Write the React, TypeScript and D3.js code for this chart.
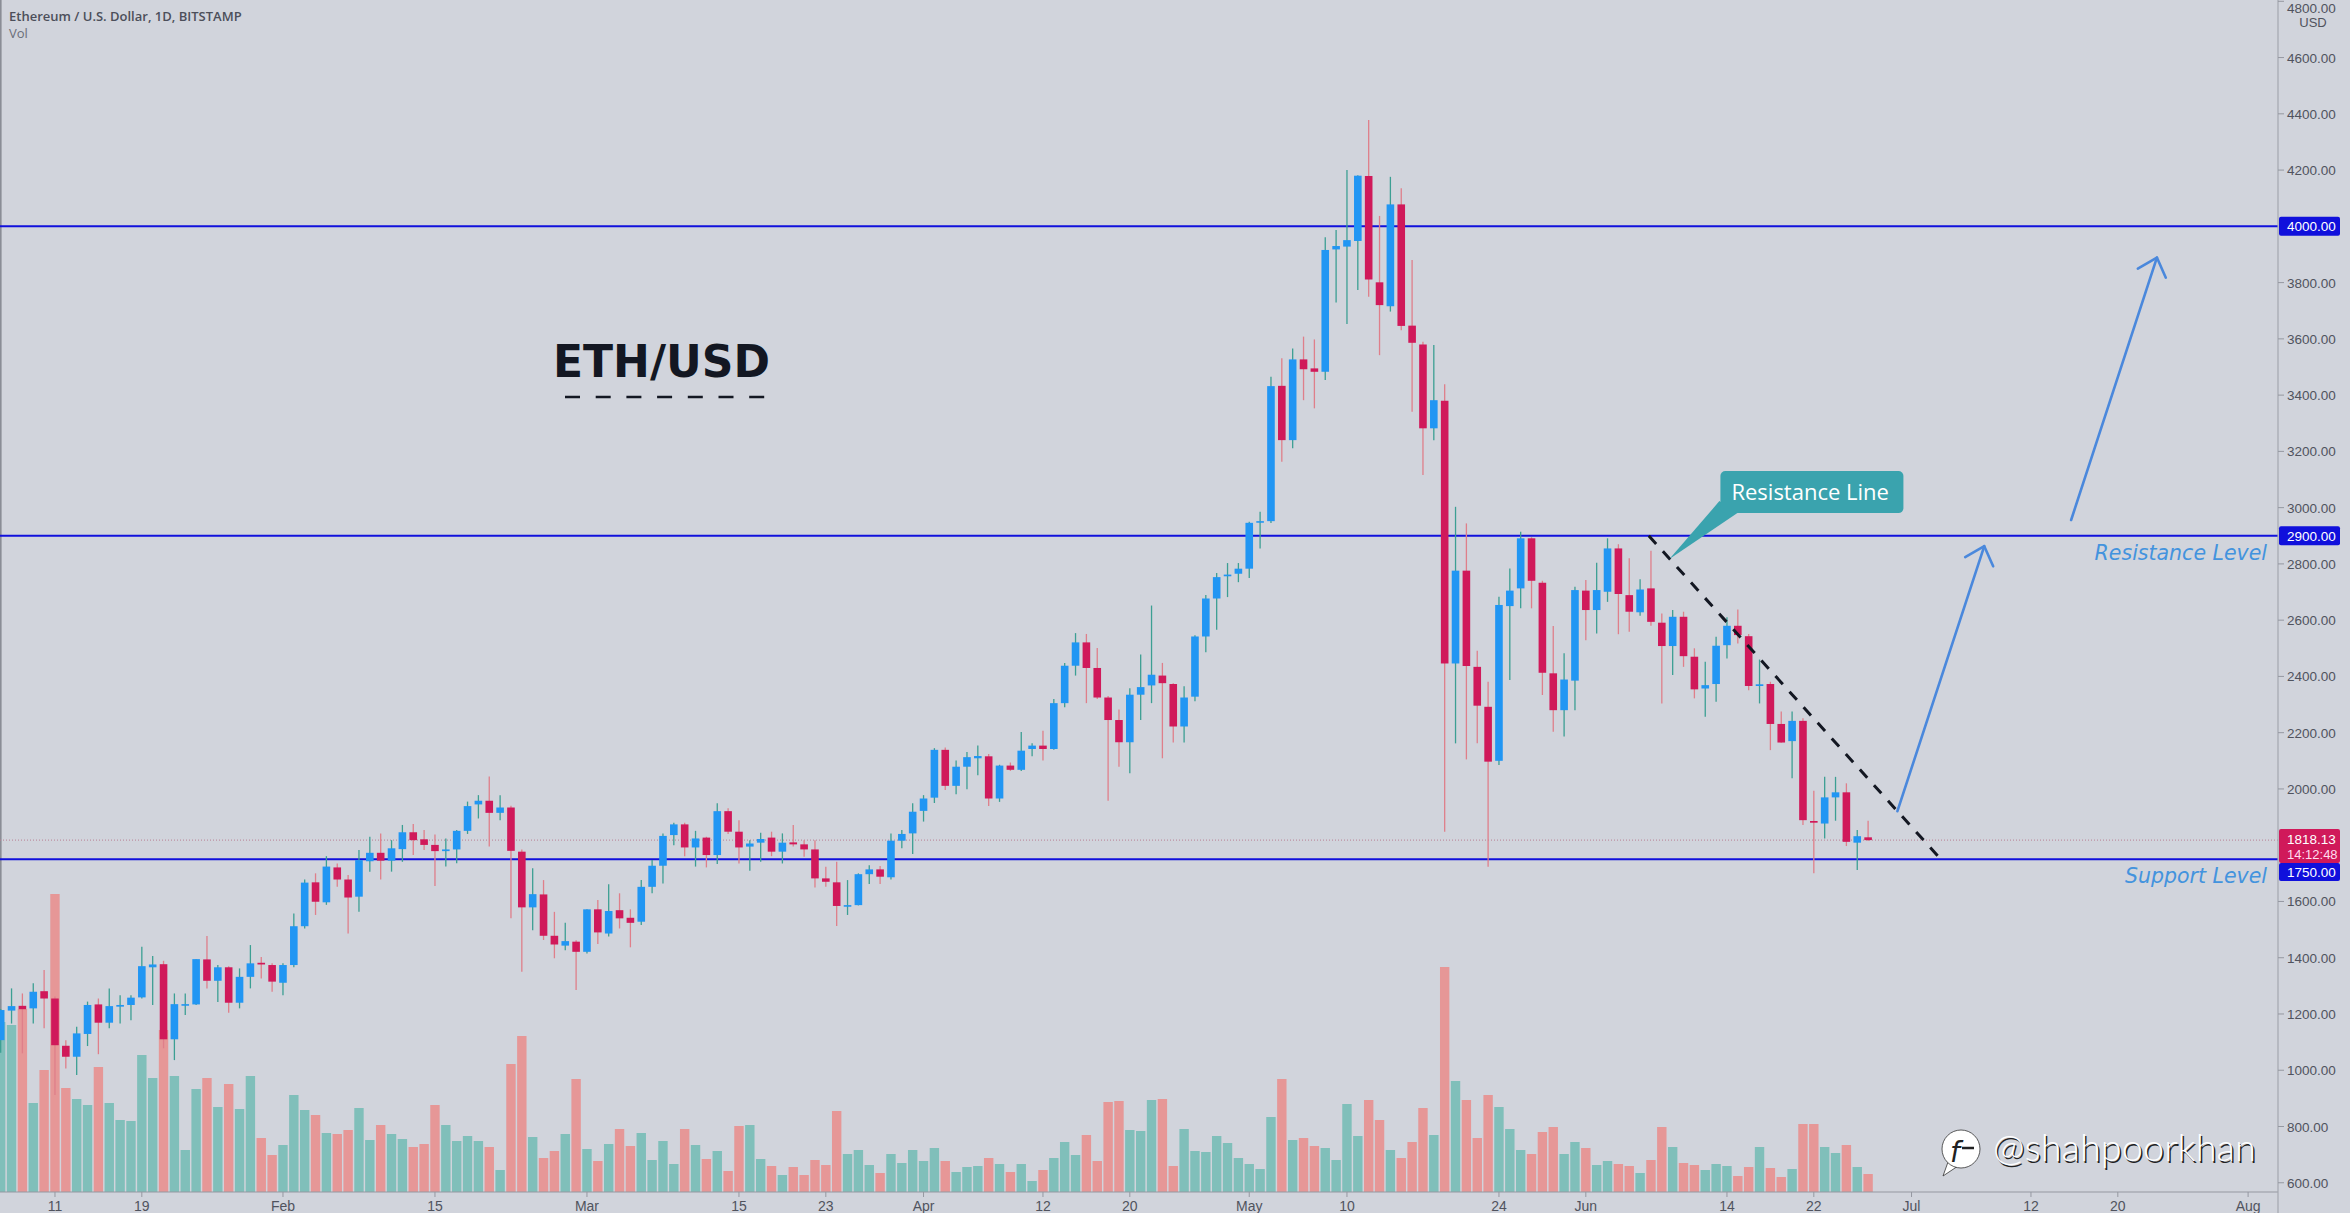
import React from 'react';
import * as d3 from 'd3';

const W = 2350;
const H = 1213;

// daily candles: [open, high, low, close, volume (K ETH)]
const firstDay = 5; // Jan 6 2021 = day 5 of the year
const jan = [
  [1107, 1218, 1062, 1214, 170], [1212, 1291, 1166, 1228, 167], [1229, 1273, 1060, 1217, 183],
  [1220, 1309, 1166, 1279, 89], [1281, 1356, 1149, 1255, 122], [1255, 1262, 912, 1089, 298],
  [1087, 1107, 1006, 1048, 104], [1048, 1155, 983, 1131, 93], [1129, 1244, 1086, 1232, 87],
  [1234, 1255, 1057, 1169, 125], [1169, 1291, 1149, 1228, 89], [1226, 1267, 1166, 1232, 72],
  [1232, 1267, 1178, 1258, 71], [1259, 1439, 1255, 1370, 137], [1366, 1406, 1232, 1376, 114],
  [1377, 1389, 1078, 1110, 162], [1110, 1273, 1036, 1235, 116], [1230, 1273, 1196, 1235, 42],
  [1234, 1395, 1232, 1395, 103], [1394, 1477, 1291, 1318, 114], [1318, 1374, 1243, 1366, 85],
  [1366, 1370, 1204, 1240, 108], [1240, 1362, 1220, 1332, 83], [1332, 1445, 1291, 1380, 116],
  [1382, 1403, 1326, 1376, 54], [1374, 1380, 1279, 1315, 37],
];
const feb = [
  [1311, 1380, 1267, 1374, 47], [1374, 1557, 1366, 1512, 97], [1512, 1678, 1504, 1667, 82],
  [1668, 1700, 1552, 1599, 77], [1597, 1761, 1588, 1724, 59], [1721, 1735, 1652, 1678, 58],
  [1678, 1694, 1486, 1614, 62], [1617, 1783, 1563, 1747, 84], [1743, 1830, 1706, 1773, 52],
  [1773, 1842, 1678, 1745, 67], [1745, 1818, 1706, 1789, 58], [1786, 1872, 1741, 1846, 53],
  [1846, 1875, 1765, 1818, 45], [1821, 1854, 1783, 1801, 48], [1801, 1838, 1655, 1779, 87],
  [1779, 1824, 1724, 1785, 67], [1785, 1854, 1736, 1851, 51], [1851, 1955, 1840, 1939, 56],
  [1945, 1978, 1895, 1958, 51], [1958, 2044, 1795, 1915, 45], [1915, 1978, 1889, 1934, 22],
  [1934, 1940, 1540, 1780, 128], [1777, 1785, 1350, 1579, 156], [1579, 1718, 1498, 1626, 55],
  [1625, 1676, 1463, 1478, 34], [1478, 1563, 1398, 1447, 41], [1443, 1524, 1427, 1459, 58],
  [1457, 1462, 1285, 1421, 113],
];
const mar = [
  [1421, 1572, 1415, 1572, 43], [1572, 1605, 1449, 1490, 31], [1486, 1661, 1475, 1566, 48],
  [1569, 1629, 1504, 1540, 63], [1542, 1572, 1437, 1524, 46], [1528, 1676, 1516, 1652, 59],
  [1652, 1747, 1629, 1727, 32], [1727, 1842, 1664, 1833, 51], [1836, 1880, 1800, 1874, 28],
  [1874, 1880, 1761, 1792, 63], [1792, 1851, 1724, 1824, 47], [1827, 1830, 1721, 1765, 33],
  [1765, 1949, 1733, 1921, 41], [1921, 1931, 1840, 1848, 21], [1848, 1889, 1735, 1792, 66],
  [1795, 1818, 1709, 1806, 67], [1809, 1844, 1741, 1822, 33], [1827, 1848, 1761, 1777, 26],
  [1777, 1842, 1735, 1809, 17], [1810, 1872, 1795, 1803, 25], [1803, 1818, 1759, 1785, 17],
  [1785, 1818, 1650, 1682, 32], [1682, 1723, 1652, 1670, 27], [1668, 1741, 1513, 1584, 81],
  [1584, 1676, 1552, 1587, 38], [1587, 1700, 1586, 1697, 42], [1697, 1729, 1662, 1714, 27],
  [1714, 1726, 1662, 1688, 19], [1686, 1842, 1678, 1816, 38], [1816, 1854, 1789, 1840, 29],
  [1842, 1949, 1769, 1919, 42],
];
const apr = [
  [1922, 1978, 1884, 1966, 31], [1969, 2145, 1950, 2139, 44], [2139, 2147, 1996, 2011, 31],
  [2011, 2101, 1981, 2079, 20], [2079, 2131, 1999, 2113, 25], [2109, 2154, 2049, 2117, 26],
  [2116, 2124, 1939, 1966, 34], [1966, 2086, 1954, 2083, 28], [2083, 2094, 2064, 2068, 20],
  [2068, 2202, 2064, 2136, 28], [2142, 2162, 2116, 2154, 11], [2154, 2207, 2101, 2142, 22],
  [2142, 2320, 2139, 2305, 34], [2305, 2448, 2290, 2438, 50], [2438, 2554, 2403, 2521, 37],
  [2521, 2551, 2305, 2430, 57], [2430, 2501, 2320, 2325, 31], [2325, 2330, 1958, 2245, 90],
  [2245, 2282, 2079, 2166, 91], [2166, 2358, 2056, 2335, 62], [2335, 2478, 2245, 2362, 61],
  [2368, 2652, 2305, 2406, 92], [2403, 2448, 2109, 2376, 93], [2373, 2376, 2165, 2222, 26],
  [2222, 2365, 2165, 2325, 63], [2328, 2546, 2312, 2542, 41], [2542, 2689, 2486, 2677, 40],
  [2677, 2768, 2566, 2753, 56], [2756, 2803, 2682, 2762, 49], [2765, 2803, 2735, 2783, 34],
];
const may = [
  [2783, 2950, 2750, 2946, 28], [2947, 2985, 2855, 2952, 23], [2952, 3465, 2945, 3432, 75],
  [3433, 3531, 3163, 3240, 113], [3240, 3566, 3211, 3527, 52], [3527, 3608, 3382, 3492, 54],
  [3495, 3598, 3353, 3483, 46], [3483, 3961, 3454, 3916, 44], [3918, 3987, 3729, 3930, 32],
  [3928, 4200, 3653, 3951, 88], [3948, 4182, 3774, 4180, 56], [4179, 4378, 3750, 3811, 92],
  [3801, 4037, 3542, 3720, 72], [3716, 4176, 3697, 4078, 42], [4078, 4135, 3631, 3646, 34],
  [3647, 3880, 3341, 3586, 50], [3580, 3590, 3116, 3282, 84], [3282, 3578, 3240, 3382, 57],
  [3380, 3439, 1848, 2446, 225], [2446, 3003, 2162, 2776, 111], [2776, 2944, 2105, 2437, 92],
  [2434, 2491, 2162, 2296, 54], [2292, 2381, 1723, 2097, 97], [2100, 2683, 2085, 2654, 85],
  [2650, 2784, 2387, 2705, 63], [2713, 2914, 2642, 2891, 42], [2891, 2895, 2642, 2740, 38],
  [2733, 2740, 2334, 2413, 60], [2411, 2579, 2203, 2280, 65], [2280, 2482, 2186, 2389, 38],
  [2385, 2719, 2280, 2707, 50],
];
const jun = [
  [2705, 2743, 2529, 2636, 44], [2636, 2804, 2553, 2707, 27], [2701, 2891, 2665, 2855, 31],
  [2855, 2870, 2550, 2693, 28], [2689, 2820, 2559, 2630, 26], [2628, 2745, 2616, 2709, 19],
  [2713, 2847, 2580, 2594, 32], [2591, 2624, 2304, 2508, 65], [2508, 2636, 2405, 2612, 45],
  [2612, 2630, 2434, 2472, 29], [2470, 2500, 2322, 2354, 27], [2357, 2452, 2257, 2369, 22],
  [2373, 2541, 2310, 2509, 28], [2511, 2610, 2464, 2580, 26], [2580, 2638, 2517, 2547, 16],
  [2543, 2551, 2351, 2366, 25], [2366, 2460, 2304, 2372, 45], [2373, 2381, 2138, 2231, 24],
  [2231, 2275, 2164, 2165, 15], [2170, 2275, 2038, 2242, 23], [2242, 2251, 1872, 1889, 68],
  [1886, 1994, 1700, 1880, 68], [1877, 2043, 1824, 1970, 45], [1970, 2043, 1887, 1988, 39],
  [1988, 2020, 1797, 1812, 47], [1809, 1854, 1712, 1832, 25], [1828, 1887, 1815, 1818.13, 18],
];

const priceTicks = [4800, 4600, 4400, 4200, 3800, 3600, 3400, 3200, 3000, 2800, 2600, 2400, 2200, 2000, 1600, 1400, 1200, 1000, 800, 600];
const timeTicks: [string, string][] = [
  ['2021-01-11', '11'], ['2021-01-19', '19'], ['2021-02-01', 'Feb'], ['2021-02-15', '15'],
  ['2021-03-01', 'Mar'], ['2021-03-15', '15'], ['2021-03-23', '23'], ['2021-04-01', 'Apr'],
  ['2021-04-12', '12'], ['2021-04-20', '20'], ['2021-05-01', 'May'], ['2021-05-10', '10'],
  ['2021-05-24', '24'], ['2021-06-01', 'Jun'], ['2021-06-14', '14'], ['2021-06-22', '22'],
  ['2021-07-01', 'Jul'], ['2021-07-12', '12'], ['2021-07-20', '20'], ['2021-08-01', 'Aug'],
];
const levels = [4000, 2900, 1750];
const levelNotes: [string, number][] = [['Resistance Level', 2900], ['Support Level', 1750]];
const lastPrice = 1818.13;
const countdown = '14:12:48';

// drawings, as [day of year, price]
const trendLine = [[156.8, 2900], [183.7, 1750]];
const calloutTip = [158.7, 2817];
const arrows = [
  [[179.7, 1921], [187.7, 2863]],
  [[195.7, 2956], [203.6, 3889]],
];

const candles = [...jan, ...feb, ...mar, ...apr, ...may, ...jun];

const BG = '#d1d4dc';
const UP = '#2196f3';
const DOWN = '#d0195a';
const WICK_UP = '#3c9f93';
const WICK_DOWN = '#df7f8a';
const VOL_UP = '#80bfba';
const VOL_DOWN = '#e69797';
const LEVEL = '#1010dc';
const AXIS_TEXT = '#50535e';
const AXIS_FONT = "'Liberation Sans', sans-serif";
const PLOT_R = 2278;
const AXIS_Y = 1192;

const day0 = Date.UTC(2021, 0, 1);
const dayToDate = (d: number) => new Date(day0 + d * 864e5);

const x = d3.scaleUtc()
  .domain([new Date(day0), new Date(Date.UTC(2021, 7, 1))])
  .range([-53.6, 2248.1]);
const y = d3.scaleLinear().domain([570, 4800]).range([1191.2, 1.3]);
const vol = d3.scaleLinear().domain([0, 300]).range([AXIS_Y, AXIS_Y - 300]);

const px = (p: number[]) => [x(dayToDate(p[0])), y(p[1])];

function Arrow({ from, to }: { from: number[]; to: number[] }) {
  const [x1, y1] = px(from);
  const [x2, y2] = px(to);
  const len = Math.hypot(x2 - x1, y2 - y1);
  const ux = (x1 - x2) / len, uy = (y1 - y2) / len;
  const a = (42 * Math.PI) / 180, L = 22;
  const wing = (s: number) => [
    x2 + L * (ux * Math.cos(s * a) - uy * Math.sin(s * a)),
    y2 + L * (ux * Math.sin(s * a) + uy * Math.cos(s * a)),
  ];
  const [w1, w2] = [wing(1), wing(-1)];
  return (
    <g stroke="#4a88dc" strokeWidth={2.6} fill="none" strokeLinecap="round" strokeLinejoin="round">
      <line x1={x1} y1={y1} x2={x2} y2={y2} />
      <polyline points={`${w1[0]},${w1[1]} ${x2},${y2} ${w2[0]},${w2[1]}`} />
    </g>
  );
}

export default function App() {
  const bodyW = 7.6;
  const volW = 9.4;
  const [tx, ty] = px(calloutTip);
  const [t1x, t1y] = px(trendLine[0]);
  const [t2x, t2y] = px(trendLine[1]);

  return (
    <svg width={W} height={H} style={{ position: 'fixed', left: 0, top: 0, background: BG }}>
      <defs>
        <clipPath id="plot">
          <rect x={0} y={0} width={PLOT_R} height={AXIS_Y} />
        </clipPath>
      </defs>
      <rect width={W} height={H} fill={BG} />
      <rect x={0} y={0} width={1.6} height={AXIS_Y} fill="#8a8d96" />

      <g clipPath="url(#plot)">
        {/* volume */}
        {candles.map((c, i) => {
          const cx = x(dayToDate(firstDay + i));
          const up = c[3] >= c[0];
          return (
            <rect key={'v' + i} x={cx - volW / 2} y={vol(c[4])} width={volW}
              height={AXIS_Y - vol(c[4])} fill={up ? VOL_UP : VOL_DOWN} />
          );
        })}

        {/* last price line */}
        <line x1={0} x2={PLOT_R} y1={y(lastPrice)} y2={y(lastPrice)} stroke="#b97e93"
          strokeWidth={1} strokeDasharray="1 2" />

        {/* horizontal levels */}
        {levels.map(l => (
          <line key={l} x1={0} x2={PLOT_R} y1={y(l)} y2={y(l)} stroke={LEVEL} strokeWidth={2} />
        ))}

        {/* candles */}
        {candles.map((c, i) => {
          const [o, h, l, cl] = c;
          const cx = x(dayToDate(firstDay + i));
          const up = cl >= o;
          const top = y(Math.max(o, cl));
          const bot = y(Math.min(o, cl));
          return (
            <g key={'c' + i}>
              <line x1={cx} x2={cx} y1={y(h)} y2={y(l)} stroke={up ? WICK_UP : WICK_DOWN} strokeWidth={1.3} />
              <rect x={cx - bodyW / 2} y={top} width={bodyW} height={Math.max(1.6, bot - top)}
                fill={up ? UP : DOWN} />
            </g>
          );
        })}

        {/* resistance trend line */}
        <line x1={t1x} y1={t1y} x2={t2x} y2={t2y} stroke="#131722" strokeWidth={3}
          strokeDasharray="11 10" />

        {/* callout */}
        <polygon points={`${tx + 50},${ty - 58} ${tx + 68},${ty - 46} ${tx},${ty}`} fill="#3aa3ae" />
        <rect x={tx + 51} y={ty - 88} width={183} height={42} rx={5} fill="#3aa3ae" />
        <text x={tx + 62} y={ty - 59} fill="#fff" fontFamily="'Open Sans', sans-serif" fontSize={22}>
          Resistance Line
        </text>

        {arrows.map((a, i) => <Arrow key={i} from={a[0]} to={a[1]} />)}

        {levelNotes.map(([t, p]) => (
          <text key={t} x={2267} y={y(p) + 24} textAnchor="end" fill="#4393de"
            fontFamily="'DejaVu Sans', sans-serif" fontStyle="italic" fontSize={20.5}>
            {t}
          </text>
        ))}
      </g>

      {/* title */}
      <text x={553} y={377} fill="#131722" fontFamily="'DejaVu Sans', sans-serif" fontWeight="bold" fontSize={44}>
        ETH/USD
      </text>
      <line x1={565} x2={765} y1={397} y2={397} stroke="#131722" strokeWidth={2.5} strokeDasharray="15 15.7" />

      <text x={9} y={21} fill="#4c4f5a" fontFamily="'Open Sans', sans-serif" fontWeight={600} fontSize={13}>
        Ethereum / U.S. Dollar, 1D, BITSTAMP
      </text>
      <text x={9} y={38} fill="#6a6d78" fontFamily="'Open Sans', sans-serif" fontSize={13}>Vol</text>

      {/* time axis */}
      <line x1={0} x2={PLOT_R} y1={AXIS_Y} y2={AXIS_Y} stroke="#9598a1" strokeWidth={1} />
      {timeTicks.map(([d, t], i) => {
        const tx0 = x(new Date(d + 'T00:00:00Z'));
        return (
          <g key={i}>
            <line x1={tx0} x2={tx0} y1={AXIS_Y} y2={AXIS_Y + 5} stroke="#9598a1" />
            <text x={tx0} y={1211} textAnchor="middle" fill={AXIS_TEXT}
              fontFamily={AXIS_FONT} fontSize={14}>{t}</text>
          </g>
        );
      })}

      {/* price axis */}
      <line x1={PLOT_R} x2={PLOT_R} y1={0} y2={H} stroke="#a4a7b0" strokeWidth={1.2} />
      {priceTicks.map(p => (
        <g key={p}>
          <line x1={PLOT_R} x2={PLOT_R + 6} y1={y(p)} y2={y(p)} stroke="#9598a1" />
          <text x={2287} y={Math.max(y(p) + 5, 13)} fill={AXIS_TEXT} fontFamily={AXIS_FONT} fontSize={13.5}>
            {p.toFixed(2)}
          </text>
        </g>
      ))}
      <text x={2313} y={27} textAnchor="middle" fill={AXIS_TEXT} fontFamily={AXIS_FONT} fontSize={13}>USD</text>

      {levels.slice(0, 2).map(l => (
        <g key={'b' + l}>
          <rect x={PLOT_R + 1} y={y(l) - 9.5} width={61} height={19} rx={2} fill={LEVEL} />
          <text x={2287} y={y(l) + 5} fill="#fff" fontFamily={AXIS_FONT} fontSize={13.5}>
            {l.toFixed(2)}
          </text>
        </g>
      ))}
      <rect x={PLOT_R + 1} y={y(lastPrice) - 11} width={61} height={34} rx={2} fill={DOWN} />
      <text x={2287} y={y(lastPrice) + 4} fill="#fff" fontFamily={AXIS_FONT} fontSize={13.5}>
        {lastPrice.toFixed(2)}
      </text>
      <text x={2287} y={y(lastPrice) + 19} fill="#fde" fontFamily={AXIS_FONT} fontSize={13}>
        {countdown}
      </text>
      <rect x={PLOT_R + 1} y={y(lastPrice) + 23} width={61} height={18} rx={2} fill={LEVEL} />
      <text x={2287} y={y(lastPrice) + 37} fill="#fff" fontFamily={AXIS_FONT} fontSize={13.5}>
        {levels[2].toFixed(2)}
      </text>

      {/* watermark */}
      <g>
        <path d="M1948,1162 L1943,1176 L1958,1166 Z" fill="#fff" stroke="#333" strokeWidth={0.8} />
        <circle cx={1961} cy={1149} r={19} fill="#fff" stroke="#333" strokeWidth={0.8} />
        <text x={1950} y={1162} fill="#222" fontFamily="'DejaVu Sans', sans-serif" fontStyle="italic" fontSize={28}>f</text>
        <line x1={1962} x2={1974} y1={1148} y2={1148} stroke="#222" strokeWidth={2.5} />
        <text x={1994.5} y={1162.5} fill="#222" fontFamily="Lato, sans-serif" fontWeight={300} fontSize={38}>@shahpoorkhan</text>
        <text x={1993} y={1161} fill="#fff" fontFamily="Lato, sans-serif" fontWeight={300} fontSize={38}>@shahpoorkhan</text>
      </g>
    </svg>
  );
}
